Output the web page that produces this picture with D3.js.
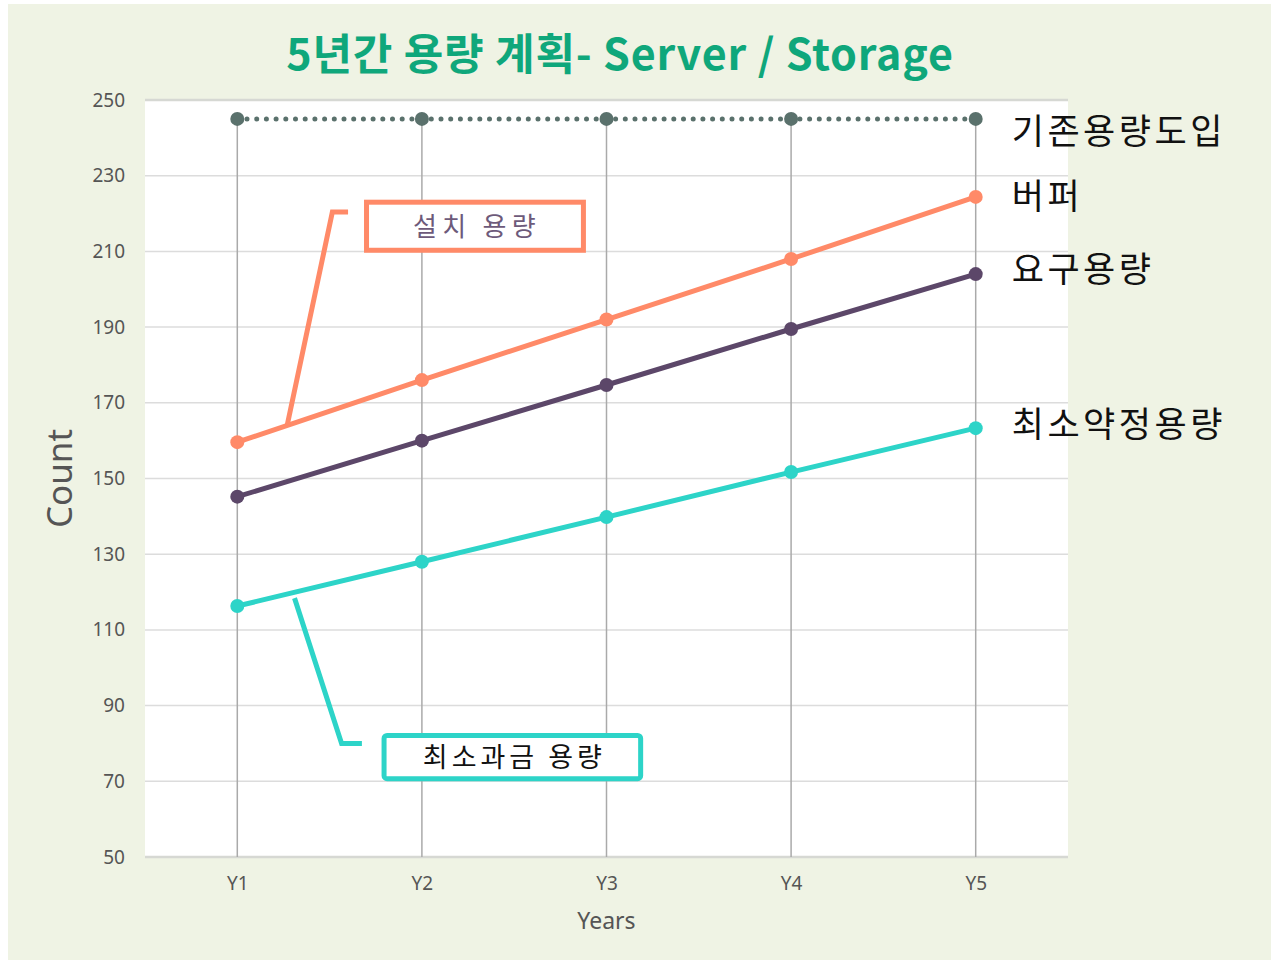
<!DOCTYPE html>
<html>
<head>
<meta charset="utf-8">
<script src="https://cdn.jsdelivr.net/npm/d3@7"></script>
<style>
html,body{margin:0;padding:0;background:#fff;}
svg{display:block;}
</style>
</head>
<body>
<svg id="chart" width="1271" height="960"></svg>
<script>
const years = ["Y1","Y2","Y3","Y4","Y5"];
const seriesNames = ["기존용량도입","버퍼","요구용량","최소약정용량"];
const existing = [245,245,245,245,245];
const buffer = [159.6,176,192,208,224.4];
const required = [145.2,160,174.7,189.5,204];
const minimum = [116.3,128,139.8,151.7,163.3];
const yTicks = [50,70,90,110,130,150,170,190,210,230,250];
const colors = ["#5a716c","#ff8a68","#5c4769","#2dd4c8"];
const labelShift = [-3.2,0,1.3,1.1];

const svg = d3.select("#chart");
const W = 1271, H = 960;
const plot = {left:145, right:1068, top:100, bottom:857};

svg.append("rect").attr("x",8).attr("y",4).attr("width",W-8).attr("height",H-4).attr("fill","#eff3e4");
svg.append("rect").attr("x",plot.left).attr("y",plot.top).attr("width",plot.right-plot.left).attr("height",plot.bottom-plot.top).attr("fill","#ffffff");

const x = d3.scalePoint().domain(years).range([plot.left, plot.right]).padding(0.5);
const y = d3.scaleLinear().domain([50,250]).range([plot.bottom, plot.top]);

// horizontal grid
svg.append("g").selectAll("line").data(yTicks).join("line")
  .attr("x1",plot.left).attr("x2",plot.right)
  .attr("y1",d=>y(d)).attr("y2",d=>y(d))
  .attr("stroke",d=> (d===250||d===50)?"#d6d8d3":"#dcdcdc")
  .attr("stroke-width",d=> (d===250||d===50)?2.5:1.5);

// vertical grid
svg.append("g").selectAll("line").data(years).join("line")
  .attr("x1",d=>x(d)).attr("x2",d=>x(d))
  .attr("y1",plot.top+18).attr("y2",plot.bottom)
  .attr("stroke","#aaaaaa").attr("stroke-width",1.5);

// y axis
const yAxis = svg.append("g").attr("transform",`translate(${plot.left},0)`)
  .call(d3.axisLeft(y).tickValues(yTicks).tickSize(0).tickPadding(20));
yAxis.select(".domain").remove();
yAxis.selectAll("text").attr("font-family","'Noto Sans', sans-serif").attr("font-size",19).attr("fill","#555");

// x axis
const xAxis = svg.append("g").attr("transform",`translate(0,${plot.bottom})`)
  .call(d3.axisBottom(x).tickSize(0).tickPadding(20));
xAxis.select(".domain").remove();
xAxis.selectAll("text").attr("font-family","'Noto Sans', sans-serif").attr("font-size",19).attr("fill","#555");

svg.append("text").attr("x",(plot.left+plot.right)/2).attr("y",929)
  .attr("text-anchor","middle").attr("font-family","'Noto Sans', sans-serif").attr("font-size",23).attr("fill","#555").text("Years");
svg.append("text").attr("transform",`translate(72,${y(150)}) rotate(-90)`)
  .attr("text-anchor","middle").attr("font-family","'Noto Sans', sans-serif").attr("font-size",35).attr("fill","#555").text("Count");

// title
svg.append("text").attr("x",620).attr("y",70).attr("text-anchor","middle")
  .attr("font-family","'Noto Sans CJK KR', sans-serif").attr("font-weight","bold").attr("font-size",43)
  .attr("letter-spacing",0.8)
  .attr("fill","#0fa77b").text("5년간 용량 계획- Server / Storage");

const allSeries = [existing, buffer, required, minimum];
const line = d3.line().x((d,i)=>x(years[i])).y(d=>y(d));

allSeries.forEach((vals,k)=>{
  const g = svg.append("g");
  if (k===0){
    g.append("path").attr("d",line(vals)).attr("fill","none").attr("stroke",colors[k])
      .attr("stroke-width",5).attr("stroke-linecap","round").attr("stroke-dasharray","0 9.7");
  } else {
    g.append("path").attr("d",line(vals)).attr("fill","none").attr("stroke",colors[k]).attr("stroke-width",5);
  }
  g.selectAll("circle").data(vals).join("circle")
    .attr("cx",(d,i)=>x(years[i])).attr("cy",d=>y(d)).attr("r",7).attr("fill",colors[k]);
  g.append("text").attr("x",x("Y5")+36).attr("y",y(vals[4]+labelShift[k]))
    .attr("dy","0.36em").attr("font-family","'Noto Sans CJK KR', sans-serif").attr("font-size",35)
    .attr("letter-spacing",3.5)
    .attr("fill","#111").text(seriesNames[k]);
});

// annotations (positioned in data space)
const step = x.step();
const ax = f => x("Y1") + f*step;

// 설치 용량
svg.append("path")
  .attr("d",`M${ax(0.27)},${y(164)} L${ax(0.515)},${y(220.4)} L${ax(0.6)},${y(220.4)}`)
  .attr("fill","none").attr("stroke",colors[1]).attr("stroke-width",5);
svg.append("rect").attr("x",ax(0.70)).attr("y",y(223)).attr("width",ax(1.875)-ax(0.70)).attr("height",y(210.3)-y(223))
  .attr("fill","#fff").attr("stroke",colors[1]).attr("stroke-width",5);
svg.append("text").attr("x",(ax(0.70)+ax(1.875))/2+2).attr("y",y(216.5)).attr("dy","0.36em")
  .attr("text-anchor","middle").attr("font-family","'Noto Sans CJK KR', sans-serif").attr("font-size",26)
  .attr("letter-spacing",5.3).attr("fill","#6d5a7a").text("설치 용량");

// 최소과금 용량
svg.append("path")
  .attr("d",`M${ax(0.31)},${y(118.4)} L${ax(0.565)},${y(80)} L${ax(0.675)},${y(80)}`)
  .attr("fill","none").attr("stroke",colors[3]).attr("stroke-width",5);
svg.append("rect").attr("x",ax(0.795)).attr("y",y(82.1)).attr("width",ax(2.185)-ax(0.795)).attr("height",y(70.7)-y(82.1))
  .attr("rx",3).attr("fill","#fff").attr("stroke",colors[3]).attr("stroke-width",5);
svg.append("text").attr("x",(ax(0.795)+ax(2.185))/2+2).attr("y",y(76.4)).attr("dy","0.36em")
  .attr("text-anchor","middle").attr("font-family","'Noto Sans CJK KR', sans-serif").attr("font-size",27)
  .attr("letter-spacing",4).attr("fill","#111").text("최소과금 용량");
</script>
</body>
</html>
